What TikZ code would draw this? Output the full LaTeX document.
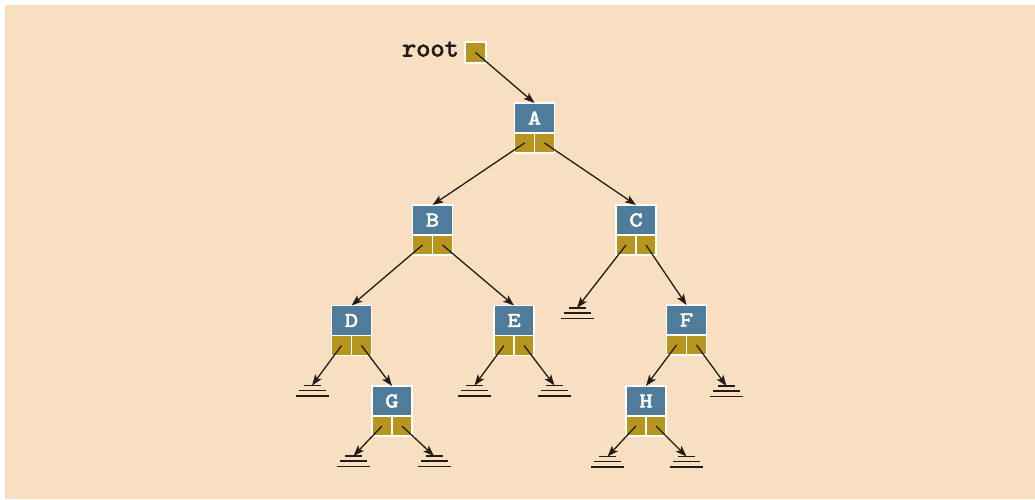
\documentclass[tikz,border=0pt]{standalone}
\usepackage{fontspec}
\newfontfamily\codefont{lmmono10-regular.otf}[FakeBold=2.5]
\newfontfamily\boxfont{lmmono10-regular.otf}[FakeBold=2.5,FakeStretch=1.2]
\usetikzlibrary{arrows.meta}
\definecolor{peach}{RGB}{248,223,193}
\definecolor{nodeblue}{RGB}{79,124,155}
\definecolor{gold}{RGB}{182,150,30}
\definecolor{ink}{RGB}{35,28,22}
\tikzset{
  bluebox/.style={draw=white, line width=1.5pt, fill=nodeblue, minimum width=40pt, minimum height=30pt, inner sep=0pt, outer sep=0pt, text=white, font=\fontsize{21}{21}\selectfont\boxfont},
  goldbox/.style={draw=white, line width=1.5pt, fill=gold, minimum width=20pt, minimum height=20pt, inner sep=0pt, outer sep=0pt},
  link/.style={draw=ink, line width=1.3pt, -{Stealth[length=11pt,width=8pt,inset=2.5pt]}},
  groundline/.style={draw=ink, line width=1.5pt},
  rootlabel/.style={font=\fontsize{27}{27}\selectfont\codefont, text=ink, inner sep=0pt, anchor=east},
  ground/.pic={
    \draw[groundline] (-8.5,0) -- (8.5,0);
    \draw[groundline] (-13.5,5) -- (13.5,5);
    \draw[groundline] (-16.5,10.5) -- (16.5,10.5);
  }
}
\newcommand{\treenode}[4]{%
  \node[bluebox] (#1) at (#2,#3+15) {#4};
  \node[goldbox, anchor=north east] (#1-l) at (#1.south) {};
  \node[goldbox, anchor=north west] (#1-r) at (#1.south) {};
}
\begin{document}
\begin{tikzpicture}[x=1pt,y=-1pt]
\useasboundingbox (0,0) rectangle (1035,499);
\fill[white] (0,0) rectangle (1035,499);
\fill[peach] (5,5) rectangle (1035,499);

% root pointer
\node[goldbox, minimum width=21pt, minimum height=21pt] (root) at (475.5,52.5) {};
\node[rootlabel, anchor=base east] (rootlbl) at (459,56.5) {root};

% tree nodes
\treenode{A}{534.5}{103}{A}
\treenode{B}{432.5}{205}{B}
\treenode{C}{636}{205}{C}
\treenode{D}{351.5}{305.5}{D}
\treenode{E}{514}{305.5}{E}
\treenode{F}{686.5}{305}{F}
\treenode{G}{392}{386}{G}
\treenode{H}{646}{386}{H}

% null pointers
\coordinate (gDl) at (312,385.5);
\coordinate (gGl) at (353.5,456);
\coordinate (gGr) at (434,456);
\coordinate (gEl) at (474.5,385.5);
\coordinate (gEr) at (554.5,385.5);
\coordinate (gCl) at (577,308);
\coordinate (gFr) at (726.5,386);
\coordinate (gHl) at (607.5,456.5);
\coordinate (gHr) at (686.5,456.5);
\foreach \g in {gDl,gGl,gGr,gEl,gEr,gCl,gFr,gHl,gHr}{
  \pic at (\g) {ground};
}

% links
\draw[link] (root.center) -- (A.north);
\draw[link] (A-l.center) -- (B.north);
\draw[link] (A-r.center) -- (C.north);
\draw[link] (B-l.center) -- (D.north);
\draw[link] (B-r.center) -- (E.north);
\draw[link] (C-l.center) -- (gCl);
\draw[link] (C-r.center) -- (F.north);
\draw[link] (D-l.center) -- (gDl);
\draw[link] (D-r.center) -- (G.north);
\draw[link] (E-l.center) -- (gEl);
\draw[link] (E-r.center) -- (gEr);
\draw[link] (F-l.center) -- (H.north);
\draw[link] (F-r.center) -- (gFr);
\draw[link] (G-l.center) -- (gGl);
\draw[link] (G-r.center) -- (gGr);
\draw[link] (H-l.center) -- (gHl);
\draw[link] (H-r.center) -- (gHr);
\end{tikzpicture}
\end{document}
